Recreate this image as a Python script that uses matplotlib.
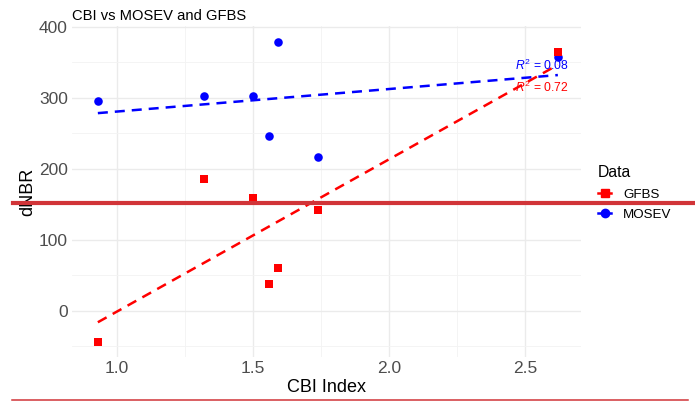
import numpy as np
import matplotlib
matplotlib.use("Agg")
import matplotlib.pyplot as plt
from matplotlib.lines import Line2D

plt.rcParams['font.family'] = ['Liberation Sans', 'DejaVu Sans']
plt.rcParams['mathtext.fontset'] = 'custom'
plt.rcParams['mathtext.rm'] = 'Liberation Sans'
plt.rcParams['mathtext.it'] = 'Liberation Sans:italic'

# CBI field index and the two dNBR products
cbi = [0.93, 1.32, 1.50, 1.56, 1.59, 1.74, 2.62]
mosev = [296, 302, 302, 246, 379, 216, 358]
gfbs = [-44, 186, 159, 38, 61, 142, 364]

series_names = ["GFBS", "MOSEV"]
series_values = [gfbs, mosev]
series_colors = ["#FF0000", "#0000FF"]
series_markers = ["s", "o"]
series_z = [4, 3]
label_y = [314, 345]

x_ticks = [1.0, 1.5, 2.0, 2.5]
y_ticks = [0, 100, 200, 300, 400]

fig = plt.figure(figsize=(6.95, 4.04), dpi=100)
ax = fig.add_axes([72 / 695, 1 - 357 / 404, (581 - 72) / 695, (357 - 26) / 404])

x = np.array(cbi)
xs = np.array([x.min(), x.max()])
for name, vals, col, mk, z, ly in zip(series_names, series_values, series_colors,
                                      series_markers, series_z, label_y):
    y = np.array(vals, dtype=float)
    slope, icpt = np.polyfit(x, y, 1)
    pred = slope * x + icpt
    r2 = 1 - np.sum((y - pred) ** 2) / np.sum((y - y.mean()) ** 2)
    ax.scatter(x, y, s=38, marker=mk, color=col, linewidths=0, zorder=z)
    ln, = ax.plot(xs, slope * xs + icpt, color=col, lw=1.8, zorder=2)
    ln.set_dashes((4, 2.8))
    ax.text(2.56, ly, r"$R^2$" + f" = {r2:.2f}", color=col, fontsize=8.7,
            ha="center", va="center", zorder=5)

ax.set_xticks(x_ticks)
ax.set_xticklabels([f"{t:.1f}" for t in x_ticks])
ax.set_yticks(y_ticks)
ax.set_xticks([1.25, 1.75, 2.25], minor=True)
ax.set_yticks([-50, 50, 150, 250, 350], minor=True)
ax.set_xlim(0.835, 2.705)
ax.set_ylim(-65, 401)
ax.grid(True, which="major", color="#EBEBEB", lw=1.0)
ax.grid(True, which="minor", color="#F3F3F3", lw=0.6)
ax.set_axisbelow(True)
for s in ax.spines.values():
    s.set_visible(False)
ax.tick_params(which="both", length=0, labelsize=12.5, labelcolor="#4D4D4D", pad=3)

ax.set_xlabel("CBI Index", fontsize=13, labelpad=2)
ax.set_ylabel("dNBR", fontsize=13, labelpad=2)
ax.set_title("CBI vs MOSEV and GFBS", fontsize=10.6, loc="left", pad=4)

handles = [Line2D([], [], color=c, marker=m, markersize=6, lw=1.8)
           for c, m in zip(series_colors, series_markers)]
leg = fig.legend(handles, series_names, title="Data", loc="center left",
                 bbox_to_anchor=(586 / 695, 1 - 193 / 404), frameon=False,
                 fontsize=9.6, title_fontsize=11.3, handlelength=1.0,
                 handletextpad=0.9, labelspacing=0.6)
leg._legend_box.align = "left"

# highlight rules across the figure
fig.add_artist(Line2D([13 / 695, 1.0], [1 - 203 / 404] * 2, transform=fig.transFigure,
                      color="#D13438", lw=3.0))
fig.add_artist(Line2D([12 / 695, 688 / 695], [1 - 400 / 404] * 2, transform=fig.transFigure,
                      color="#D13438", lw=1.1))

fig.savefig("out.png", dpi=100)
